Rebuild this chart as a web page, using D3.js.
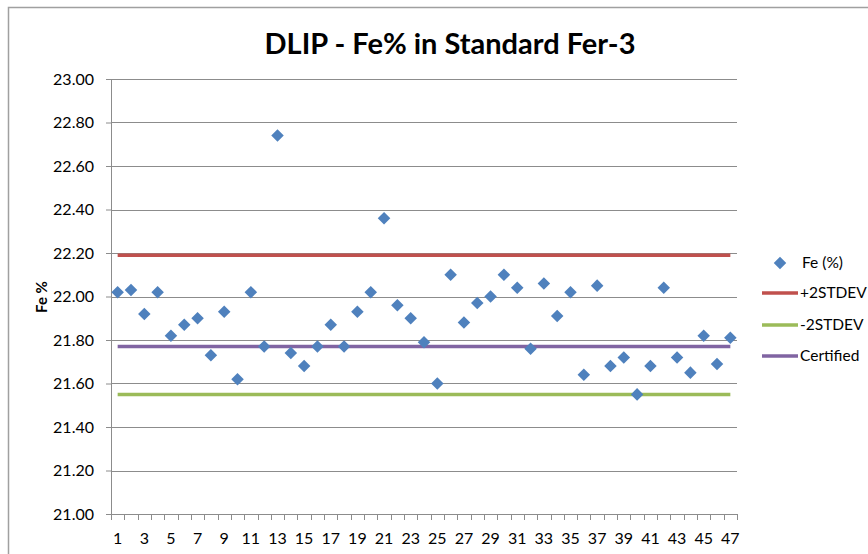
<!DOCTYPE html>
<html>
<head>
<meta charset="utf-8">
<script src="https://d3js.org/d3.v7.min.js"></script>
<style>
  body { margin: 0; background: #fff; }
  svg { font-family: Lato, "Open Sans", sans-serif; }
</style>
</head>
<body>
<svg id="drawing_region"></svg>
<script>
// sample numbers 1..47 and the Fe readings
const samples = d3.range(1, 48);
const feValues = [
    22.02, 22.03, 21.92, 22.02, 21.82, 21.87, 21.90, 21.73, 21.93, 21.62,
    22.02, 21.77, 22.74, 21.74, 21.68, 21.77, 21.87, 21.77, 21.93, 22.02,
    22.36, 21.96, 21.90, 21.79, 21.60, 22.10, 21.88, 21.97, 22.00, 22.10,
    22.04, 21.76, 22.06, 21.91, 22.02, 21.64, 22.05, 21.68, 21.72, 21.55,
    21.68, 22.04, 21.72, 21.65, 21.82, 21.69, 21.81
];
const plus2Stdev = 22.19;
const minus2Stdev = 21.55;
const certified = 21.77;
const yTicks = [21.0, 21.2, 21.4, 21.6, 21.8, 22.0, 22.2, 22.4, 22.6, 22.8, 23.0];

const refLines = [
    {name: '+2STDEV', value: plus2Stdev, color: '#c0504d'},
    {name: '-2STDEV', value: minus2Stdev, color: '#9bbb59'},
    {name: 'Certified', value: certified, color: '#8064a2'}
];

const config = {
    width: 868,
    height: 554,
    margin: {top: 79, right: 131, bottom: 40, left: 111}
};

const svg = d3.select('#drawing_region')
    .attr('width', config.width)
    .attr('height', config.height);

// chart border
svg.append('rect')
    .attr('x', 8.5).attr('y', 7.5)
    .attr('width', 900).attr('height', 600)
    .attr('fill', 'none')
    .attr('stroke', '#a0a0a0')
    .attr('stroke-width', 1.5);

const inner_width = config.width - config.margin.left - config.margin.right;
const inner_height = 514 - config.margin.top;

const chart = svg.append('g')
    .attr('transform', `translate(${config.margin.left}, ${config.margin.top})`);

const xscale = d3.scaleBand()
    .domain(samples)
    .range([0, inner_width]);

const yscale = d3.scaleLinear()
    .domain([21, 23])
    .range([inner_height, 0]);

// gridlines
chart.append('g')
    .selectAll('line')
    .data(yTicks)
    .join('line')
    .attr('x1', 0).attr('x2', inner_width)
    .attr('y1', d => Math.round(yscale(d)) + 0.5)
    .attr('y2', d => Math.round(yscale(d)) + 0.5)
    .attr('stroke', '#8c8c8c')
    .attr('stroke-width', 1);

// y axis
const yaxis = d3.axisLeft(yscale)
    .tickValues(yTicks)
    .tickFormat(d3.format('.2f'))
    .tickSize(5)
    .tickPadding(12);

const yaxis_group = chart.append('g').call(yaxis);
yaxis_group.select('.domain').attr('stroke', '#8c8c8c');
yaxis_group.selectAll('.tick line').attr('stroke', '#8c8c8c');
yaxis_group.selectAll('.tick text')
    .attr('font-size', 16)
    .attr('font-family', 'Lato, sans-serif')
    .attr('fill', '#000');

// x axis: ticks at category boundaries, labels on odd samples
const xaxis_group = chart.append('g')
    .attr('transform', `translate(0, ${inner_height})`);

xaxis_group.append('line')
    .attr('x1', 0).attr('x2', inner_width)
    .attr('y1', 0.5).attr('y2', 0.5)
    .attr('stroke', '#8c8c8c');

xaxis_group.selectAll('.xtick')
    .data(samples.concat([48]))
    .join('line')
    .attr('class', 'xtick')
    .attr('x1', d => Math.round(d <= 47 ? xscale(d) : inner_width) + 0.5)
    .attr('x2', d => Math.round(d <= 47 ? xscale(d) : inner_width) + 0.5)
    .attr('y1', 0).attr('y2', 6)
    .attr('stroke', '#8c8c8c');

xaxis_group.selectAll('.xlabel')
    .data(samples.filter(d => d % 2 === 1))
    .join('text')
    .attr('class', 'xlabel')
    .attr('x', d => xscale(d) + xscale.bandwidth() / 2)
    .attr('y', 30)
    .attr('text-anchor', 'middle')
    .attr('font-size', 16)
    .text(d => d);

// reference lines
const firstX = xscale(1) + xscale.bandwidth() / 2;
const lastX = xscale(47) + xscale.bandwidth() / 2;

chart.selectAll('.refline')
    .data(refLines)
    .join('line')
    .attr('class', 'refline')
    .attr('x1', firstX).attr('x2', lastX)
    .attr('y1', d => yscale(d.value))
    .attr('y2', d => yscale(d.value))
    .attr('stroke', d => d.color)
    .attr('stroke-width', 3.5);

// Fe points
const diamond = d3.symbol().type(d3.symbolDiamond2).size(100);

chart.selectAll('.point')
    .data(feValues)
    .join('path')
    .attr('class', 'point')
    .attr('d', diamond)
    .attr('transform', (d, i) => `translate(${xscale(samples[i]) + xscale.bandwidth() / 2}, ${yscale(d)})`)
    .attr('fill', '#4f81bd');

// title
svg.append('text')
    .attr('x', 450)
    .attr('y', 54)
    .attr('text-anchor', 'middle')
    .attr('font-size', 29)
    .attr('font-weight', 'bold')
    .text('DLIP - Fe% in Standard Fer-3');

// y axis title
svg.append('text')
    .attr('transform', 'translate(47, 297) rotate(-90)')
    .attr('text-anchor', 'middle')
    .attr('font-size', 15)
    .attr('font-weight', 'bold')
    .text('Fe %');

// legend
const legend = svg.append('g');

legend.append('path')
    .attr('d', diamond)
    .attr('transform', 'translate(780, 263)')
    .attr('fill', '#4f81bd');
legend.append('text')
    .attr('x', 802).attr('y', 268)
    .attr('font-size', 15.5)
    .text('Fe (%)');

const legendY = [293, 325, 356];
legend.selectAll('.legline')
    .data(refLines)
    .join('line')
    .attr('class', 'legline')
    .attr('x1', 762).attr('x2', 798)
    .attr('y1', (d, i) => legendY[i])
    .attr('y2', (d, i) => legendY[i])
    .attr('stroke', d => d.color)
    .attr('stroke-width', 3.5);

legend.selectAll('.legtext')
    .data(refLines)
    .join('text')
    .attr('class', 'legtext')
    .attr('x', 800)
    .attr('y', (d, i) => legendY[i] + 5)
    .attr('font-size', 15.5)
    .text(d => d.name);
</script>
</body>
</html>
